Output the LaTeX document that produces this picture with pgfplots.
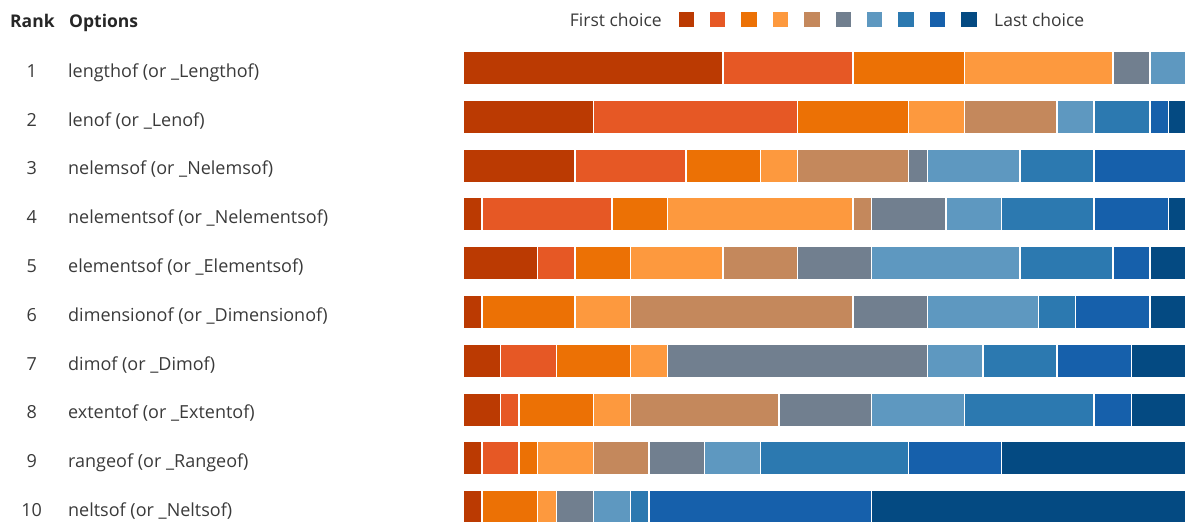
\documentclass[border=0pt]{standalone}
\usepackage{fontspec}
\setmainfont{Open Sans}
\usepackage{pgfplots}
\usepackage{pgfplotstable}
\pgfplotsset{compat=1.18}

% ten shades, first choice -> last choice
\definecolor{r1}{HTML}{BB3A02}
\definecolor{r2}{HTML}{E65825}
\definecolor{r3}{HTML}{EC7105}
\definecolor{r4}{HTML}{FD993E}
\definecolor{r5}{HTML}{C4885C}
\definecolor{r6}{HTML}{717F8F}
\definecolor{r7}{HTML}{5E98C0}
\definecolor{r8}{HTML}{2C79B0}
\definecolor{r9}{HTML}{1660AB}
\definecolor{r10}{HTML}{044A82}
\definecolor{txt}{HTML}{3A3A3A}

% votes per rank position (39 voters)
\pgfplotstableread{
rank c1 c2 c3 c4 c5 c6 c7 c8 c9 c10
1  14  7  6  8  0  2  2  0  0  0
2   7 11  6  3  5  0  2  3  1  1
3   6  6  4  2  6  1  5  4  5  0
4   1  7  3 10  1  4  3  5  4  1
5   4  2  3  5  4  4  8  5  2  2
6   1  0  5  3 12  4  6  2  4  2
7   2  3  4  2  0 14  3  4  4  3
8   2  1  4  2  8  5  5  7  2  3
9   1  2  1  3  3  3  3  8  5 10
10  1  0  3  1  0  2  2  1 12 17
}\votes

\newcommand{\rk}[1]{\makebox[40bp][c]{#1}\hspace{16.5bp}}

\begin{document}
\begin{tikzpicture}
\useasboundingbox (0,0) rectangle (1185bp,-522bp);
\tikzset{every node/.style={font=\fontsize{17.5bp}{21bp}\selectfont}}

\node[anchor=base west, inner sep=0pt, font=\fontsize{17.5bp}{21bp}\selectfont\bfseries, text=black!85] at (10bp,-27bp) {Rank};
\node[anchor=base west, inner sep=0pt, font=\fontsize{17.5bp}{21bp}\selectfont\bfseries, text=black!85] at (69bp,-27bp) {Options};

\node[anchor=base east, inner sep=0pt, text=txt] at (662bp,-26.7bp) {First choice};
\foreach \i in {1,...,10}{
  \fill[r\i] ({678.5bp+31.4bp*(\i-1)},-11.7bp) rectangle ++(15.5bp,-15bp);
}
\node[anchor=base west, inner sep=0pt, text=txt] at (994bp,-26.7bp) {Last choice};

\begin{axis}[
  at={(463.5bp,-43.6bp)}, anchor=north west,
  x=18.55bp, y=48.8bp,
  xmin=0, xmax=39,
  ymin=0.5, ymax=10.5,
  y dir=reverse,
  xbar stacked,
  bar width=33.5bp,
  clip=false,
  axis line style={draw=none},
  major tick length=0pt,
  xtick=\empty,
  ytick={1,...,10},
  yticklabels={
    {\rk{1}lengthof (or \_Lengthof)},
    {\rk{2}lenof (or \_Lenof)},
    {\rk{3}nelemsof (or \_Nelemsof)},
    {\rk{4}nelementsof (or \_Nelementsof)},
    {\rk{5}elementsof (or \_Elementsof)},
    {\rk{6}dimensionof (or \_Dimensionof)},
    {\rk{7}dimof (or \_Dimof)},
    {\rk{8}extentof (or \_Extentof)},
    {\rk{9}rangeof (or \_Rangeof)},
    {\rk{10}neltsof (or \_Neltsof)}
  },
  yticklabel style={anchor=base west, inner sep=0pt, xshift=-452bp, yshift=-9.3bp,
    text=txt, font=\fontsize{18bp}{21bp}\selectfont},
  every axis plot/.append style={draw=white, line width=1.5bp},
]
\addplot[fill=r1] table[x=c1, y=rank] {\votes};
\addplot[fill=r2] table[x=c2, y=rank] {\votes};
\addplot[fill=r3] table[x=c3, y=rank] {\votes};
\addplot[fill=r4] table[x=c4, y=rank] {\votes};
\addplot[fill=r5] table[x=c5, y=rank] {\votes};
\addplot[fill=r6] table[x=c6, y=rank] {\votes};
\addplot[fill=r7] table[x=c7, y=rank] {\votes};
\addplot[fill=r8] table[x=c8, y=rank] {\votes};
\addplot[fill=r9] table[x=c9, y=rank] {\votes};
\addplot[fill=r10] table[x=c10, y=rank] {\votes};
\end{axis}
\end{tikzpicture}
\end{document}
